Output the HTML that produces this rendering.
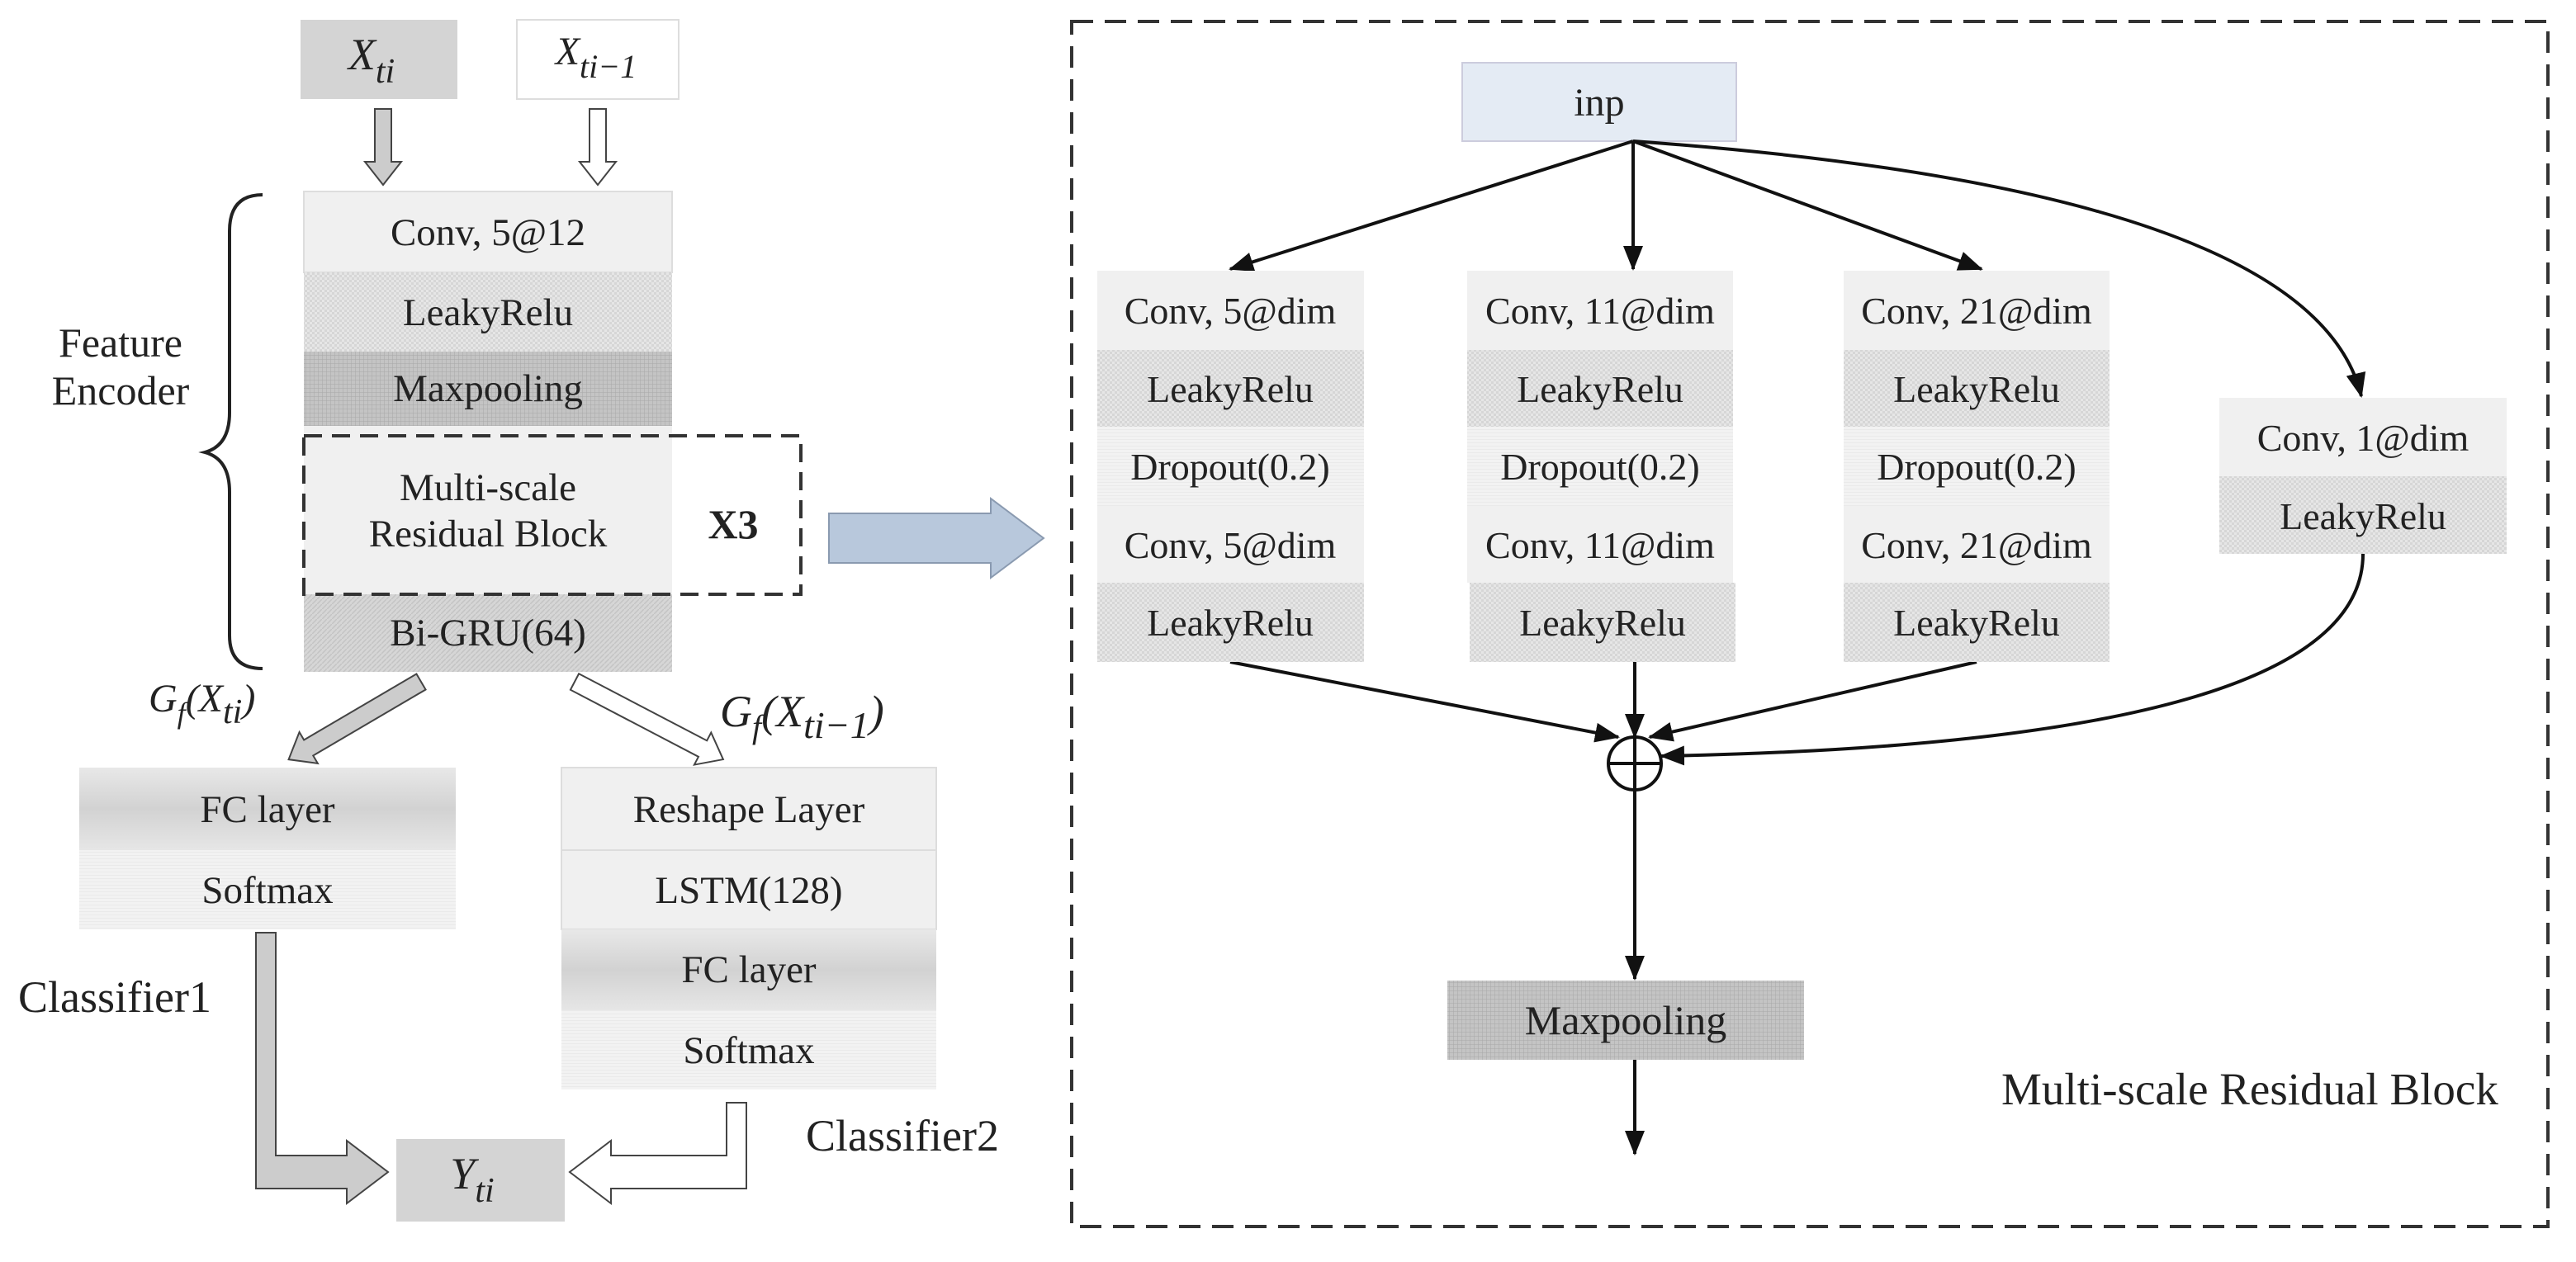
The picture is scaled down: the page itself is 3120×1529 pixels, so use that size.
<!DOCTYPE html>
<html><head><meta charset="utf-8"><style>html,body{margin:0;padding:0;background:#fff}svg{display:block}</style></head>
<body>
<svg width="3120" height="1529" viewBox="0 0 3120 1529" xmlns="http://www.w3.org/2000/svg" font-family="'Liberation Serif',serif" font-size="50" fill="#222">
<defs>
<pattern id="chk" width="6" height="6" patternUnits="userSpaceOnUse"><rect width="6" height="6" fill="#e6e6e6"/><rect width="3" height="3" fill="#d6d6d6"/><rect x="3" y="3" width="3" height="3" fill="#d6d6d6"/></pattern>
<pattern id="grid" width="5" height="5" patternUnits="userSpaceOnUse"><rect width="5" height="5" fill="#c4c4c4"/><path d="M0 0H5M0 0V5" stroke="#a8a8a8" stroke-width="1"/></pattern>
<pattern id="diag" width="6" height="6" patternUnits="userSpaceOnUse"><rect width="6" height="6" fill="#d6d6d6"/><path d="M0 6L6 0" stroke="#c4c4c4" stroke-width="1.5"/></pattern>
<pattern id="hl" width="4" height="4" patternUnits="userSpaceOnUse"><rect width="4" height="4" fill="#f2f2f2"/><path d="M0 0H4" stroke="#e2e2e2"/></pattern>
<linearGradient id="fc" x1="0" y1="0" x2="0" y2="1"><stop offset="0" stop-color="#e8e8e8"/><stop offset="0.5" stop-color="#d2d2d2"/><stop offset="1" stop-color="#e6e6e6"/></linearGradient>
<marker id="ahb" markerWidth="30" markerHeight="24" refX="28" refY="12" orient="auto" markerUnits="userSpaceOnUse"><path d="M0 0L30 12L0 24z" fill="#111"/></marker>
</defs>

<rect x="364" y="24" width="190" height="96" fill="#d4d4d4"/>
<text x="450" y="84" font-style="italic" font-size="54" text-anchor="middle">X<tspan font-size="42" dy="16">ti</tspan></text>
<rect x="626" y="24" width="196" height="96" fill="#fff" stroke="#ddd" stroke-width="2"/>
<text x="722" y="78" font-style="italic" font-size="48" text-anchor="middle">X<tspan font-size="40" dy="16">ti−1</tspan></text>
<polygon points="454,132 474,132 474,196 486,196 464,224 442,196 454,196" fill="#ccc" stroke="#444" stroke-width="2"/>
<polygon points="714,132 734,132 734,196 746,196 724,224 702,196 714,196" fill="#fff" stroke="#444" stroke-width="2"/>

<g font-size="47" text-anchor="middle">
<rect x="368" y="232" width="446" height="98" fill="#f0f0f0" stroke="#ddd" stroke-width="2"/>
<text x="591" y="297">Conv, 5@12</text>
<rect x="368" y="330" width="446" height="96" fill="url(#chk)"/>
<text x="591" y="394">LeakyRelu</text>
<rect x="368" y="426" width="446" height="90" fill="url(#grid)"/>
<text x="591" y="486">Maxpooling</text>
<rect x="368" y="516" width="446" height="204" fill="#f0f0f0"/>
<text x="591" y="606">Multi-scale</text>
<text x="591" y="662">Residual Block</text>
<rect x="368" y="720" width="446" height="94" fill="url(#diag)"/>
<text x="591" y="782">Bi-GRU(64)</text>
</g>
<rect x="368" y="528" width="602" height="192" fill="none" stroke="#333" stroke-width="4" stroke-dasharray="22 12"/>
<text x="888" y="652" font-weight="bold" font-size="50" text-anchor="middle">X3</text>

<path d="M318 236 Q278 236 278 280 L278 500 Q278 540 248 548 Q278 556 278 596 L278 770 Q278 810 318 810" fill="none" stroke="#222" stroke-width="4"/>
<text x="146" y="432" font-size="50" text-anchor="middle">Feature</text>
<text x="146" y="490" font-size="50" text-anchor="middle">Encoder</text>

<polygon points="1004,622 1200,622 1200,604 1264,652 1200,700 1200,682 1004,682" fill="#b8c8dc" stroke="#8a9ab0" stroke-width="2"/>

<g transform="translate(510,826) rotate(149.6)"><polygon points="0,-11 158,-11 158,-22 186,0 158,22 158,11 0,11" fill="#ccc" stroke="#444" stroke-width="2"/></g>
<g transform="translate(696,826) rotate(27.6)"><polygon points="0,-11 175,-11 175,-22 203,0 175,22 175,11 0,11" fill="#fff" stroke="#444" stroke-width="2"/></g>
<text x="180" y="862" font-style="italic" font-size="48">G<tspan font-size="36" dy="14">f</tspan><tspan dy="-14">(X</tspan><tspan font-size="42" dy="14">ti</tspan><tspan dy="-14">)</tspan></text>
<text x="872" y="880" font-style="italic" font-size="54">G<tspan font-size="40" dy="14">f</tspan><tspan dy="-14">(X</tspan><tspan font-size="46" dy="14">ti−1</tspan><tspan dy="-14">)</tspan></text>

<g font-size="47" text-anchor="middle">
<rect x="96" y="930" width="456" height="100" fill="url(#fc)"/>
<text x="324" y="996">FC layer</text>
<rect x="96" y="1030" width="456" height="96" fill="url(#hl)"/>
<text x="324" y="1094">Softmax</text>
<rect x="680" y="930" width="454" height="100" fill="#f0f0f0" stroke="#ddd" stroke-width="2"/>
<text x="907" y="996">Reshape Layer</text>
<rect x="680" y="1030" width="454" height="96" fill="#f0f0f0" stroke="#ddd" stroke-width="2"/>
<text x="907" y="1094">LSTM(128)</text>
<rect x="680" y="1126" width="454" height="98" fill="url(#fc)"/>
<text x="907" y="1190">FC layer</text>
<rect x="680" y="1224" width="454" height="96" fill="url(#hl)"/>
<text x="907" y="1288">Softmax</text>
</g>
<text x="22" y="1226" font-size="54">Classifier1</text>
<text x="976" y="1394" font-size="54">Classifier2</text>

<rect x="480" y="1380" width="204" height="100" fill="#d4d4d4"/>
<text x="572" y="1440" font-style="italic" font-size="54" text-anchor="middle">Y<tspan font-size="42" dy="16">ti</tspan></text>
<polygon points="310,1130 334,1130 334,1400 420,1400 420,1382 470,1420 420,1458 420,1440 310,1440" fill="#ccc" stroke="#444" stroke-width="2"/>
<polygon points="904,1336 880,1336 880,1400 740,1400 740,1382 690,1420 740,1458 740,1440 904,1440" fill="#fff" stroke="#444" stroke-width="2"/>

<rect x="1298" y="26" width="1788" height="1460" fill="none" stroke="#333" stroke-width="4" stroke-dasharray="26 14"/>

<rect x="1771" y="76" width="332" height="95" fill="#e4ebf4" stroke="#ccd" stroke-width="2"/>
<text x="1937" y="140" font-size="48" text-anchor="middle">inp</text>

<g stroke="#111" stroke-width="4" fill="none">
<line x1="1978" y1="171" x2="1490" y2="326" marker-end="url(#ahb)"/>
<line x1="1978" y1="171" x2="1978" y2="326" marker-end="url(#ahb)"/>
<line x1="1978" y1="171" x2="2400" y2="326" marker-end="url(#ahb)"/>
<path d="M1978 171 Q2800 230 2860 480" marker-end="url(#ahb)"/>
<line x1="1490" y1="802" x2="1960" y2="893" marker-end="url(#ahb)"/>
<line x1="1980" y1="802" x2="1980" y2="893" marker-end="url(#ahb)"/>
<line x1="2394" y1="802" x2="1998" y2="893" marker-end="url(#ahb)"/>
<path d="M2862 671 Q2862 900 2012 916" marker-end="url(#ahb)"/>
<circle cx="1980" cy="925" r="32" fill="#fff"/>
<line x1="1948" y1="925" x2="2012" y2="925"/>
<line x1="1980" y1="893" x2="1980" y2="957"/>
<line x1="1980" y1="957" x2="1980" y2="1186" marker-end="url(#ahb)"/>
<line x1="1980" y1="1284" x2="1980" y2="1398" marker-end="url(#ahb)"/>
</g>

<g text-anchor="middle" font-size="46">
<g>
<rect x="1329" y="328" width="323" height="96" fill="#f0f0f0"/><text x="1490" y="392">Conv, 5@dim</text>
<rect x="1329" y="424" width="323" height="93" fill="url(#chk)"/><text x="1490" y="487">LeakyRelu</text>
<rect x="1329" y="517" width="323" height="96" fill="url(#hl)"/><text x="1490" y="581">Dropout(0.2)</text>
<rect x="1329" y="613" width="323" height="93" fill="#f0f0f0"/><text x="1490" y="676">Conv, 5@dim</text>
<rect x="1329" y="706" width="323" height="96" fill="url(#chk)"/><text x="1490" y="770">LeakyRelu</text>
</g>
<g>
<rect x="1777" y="328" width="322" height="96" fill="#f0f0f0"/><text x="1938" y="392">Conv, 11@dim</text>
<rect x="1777" y="424" width="322" height="93" fill="url(#chk)"/><text x="1938" y="487">LeakyRelu</text>
<rect x="1777" y="517" width="322" height="96" fill="url(#hl)"/><text x="1938" y="581">Dropout(0.2)</text>
<rect x="1777" y="613" width="322" height="93" fill="#f0f0f0"/><text x="1938" y="676">Conv, 11@dim</text>
<rect x="1780" y="706" width="322" height="96" fill="url(#chk)"/><text x="1941" y="770">LeakyRelu</text>
</g>
<g>
<rect x="2233" y="328" width="322" height="96" fill="#f0f0f0"/><text x="2394" y="392">Conv, 21@dim</text>
<rect x="2233" y="424" width="322" height="93" fill="url(#chk)"/><text x="2394" y="487">LeakyRelu</text>
<rect x="2233" y="517" width="322" height="96" fill="url(#hl)"/><text x="2394" y="581">Dropout(0.2)</text>
<rect x="2233" y="613" width="322" height="93" fill="#f0f0f0"/><text x="2394" y="676">Conv, 21@dim</text>
<rect x="2233" y="706" width="322" height="96" fill="url(#chk)"/><text x="2394" y="770">LeakyRelu</text>
</g>
<rect x="2688" y="482" width="348" height="95" fill="#f0f0f0"/><text x="2862" y="546">Conv, 1@dim</text>
<rect x="2688" y="577" width="348" height="94" fill="url(#chk)"/><text x="2862" y="641">LeakyRelu</text>
<rect x="1753" y="1188" width="432" height="96" fill="url(#grid)"/><text x="1969" y="1253" font-size="50">Maxpooling</text>
</g>
<text x="2424" y="1338" font-size="55">Multi-scale Residual Block</text>
</svg>
</body></html>
